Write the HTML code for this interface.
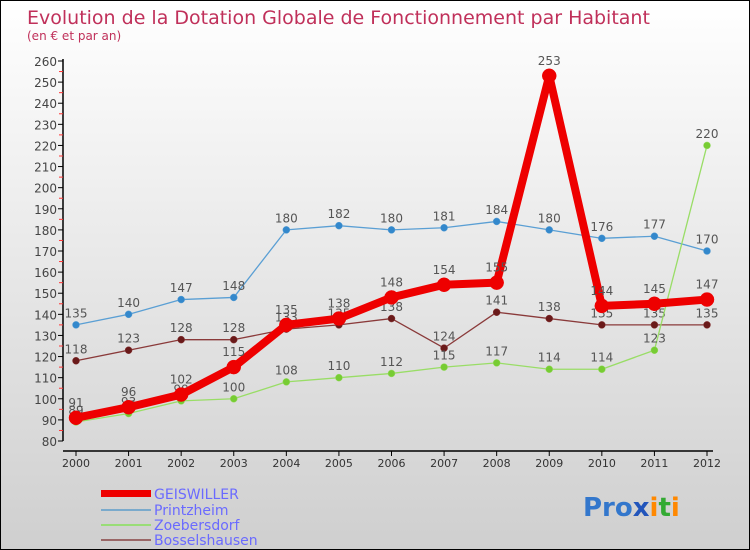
<!DOCTYPE html>
<html><head><meta charset="utf-8"><style>
body{margin:0}
#c{width:748px;height:548px;border:1px solid #000;background:linear-gradient(#ffffff,#cfcfcf);position:relative;overflow:hidden;font-family:"DejaVu Sans","Liberation Sans",sans-serif}
</style></head><body>
<div id="c">
<svg id="s" width="748" height="548">
<text x="26" y="23" font-size="19" fill="#c0305a">Evolution de la Dotation Globale de Fonctionnement par Habitant</text>
<text x="26" y="39" font-size="12" fill="#c0305a">(en € et par an)</text>
<g id="axes"></g><g id="series"></g>
<g>
<rect x="100" y="489" width="50" height="7" fill="#ee0000"/>
<text x="153" y="498" font-size="14" fill="#6a6aff">GEISWILLER</text>
<line x1="100" x2="150" y1="509" y2="509" stroke="#7aaacc" stroke-width="2"/>
<text x="153" y="514" font-size="14" fill="#6a6aff">Printzheim</text>
<line x1="100" x2="150" y1="524" y2="524" stroke="#99dd77" stroke-width="2"/>
<text x="153" y="529" font-size="14" fill="#6a6aff">Zoebersdorf</text>
<line x1="100" x2="150" y1="539" y2="539" stroke="#996666" stroke-width="2"/>
<text x="153" y="544" font-size="14" fill="#6a6aff">Bosselshausen</text>
</g>
<g font-size="26" font-weight="bold" font-family="'DejaVu Sans',sans-serif">
<text x="582" y="515"><tspan fill="#3377cc">Pro</tspan><tspan fill="#2255bb">x</tspan><tspan fill="#ff8800">i</tspan><tspan fill="#33aa33">t</tspan><tspan fill="#ff8800">i</tspan></text>
</g>
</svg>
</div>
<script>
const years=[2000,2001,2002,2003,2004,2005,2006,2007,2008,2009,2010,2011,2012];
const yTicks=[80,90,100,110,120,130,140,150,160,170,180,190,200,210,220,230,240,250,260];
const geiswiller=[91,96,102,115,135,138,148,154,155,253,144,145,147];
const printzheim=[135,140,147,148,180,182,180,181,184,180,176,177,170];
const zoebersdorf=[89,93,99,100,108,110,112,115,117,114,114,123,220];
const bosselshausen=[118,123,128,128,133,135,138,124,141,138,135,135,135];
const NS="http://www.w3.org/2000/svg";
const X=i=>75+i*(631/12);
const Y=v=>440-(v-80)*(380/180);
function mk(t,a,p){const e=document.createElementNS(NS,t);for(const k in a)e.setAttribute(k,a[k]);p.appendChild(e);return e;}
const ax=document.getElementById('axes');
let l=mk('line',{x1:62,x2:62,y1:58,y2:440,stroke:'#000','stroke-width':1.5},ax);


yTicks.forEach((v,i)=>{
 mk('line',{x1:57,x2:62,y1:Y(v),y2:Y(v),stroke:'#000'},ax);
 if(i<yTicks.length-1)mk('line',{x1:58,x2:62,y1:Y(v+5),y2:Y(v+5),stroke:'#ff3333'},ax);
 const t=mk('text',{x:56,y:Y(v)+5,'text-anchor':'end','font-size':12,fill:'#444'},ax);
 t.textContent=v;
 
 
});
l=mk('line',{x1:62,x2:712,y1:450,y2:450,stroke:'#000','stroke-width':1.5},ax);


years.forEach((y,i)=>{
 mk('line',{x1:X(i),x2:X(i),y1:450,y2:455,stroke:'#000'},ax);
 const t=mk('text',{x:X(i),y:466,'text-anchor':'middle','font-size':11,fill:'#333'},ax);
 t.textContent=y;
 
 
});
const sg=document.getElementById('series');
function draw(data,name,color,dot,w,r){
 const g=mk('g',{},sg);
 
 
 mk('polyline',{points:data.map((v,i)=>X(i)+','+Y(v)).join(' '),fill:'none',stroke:color,'stroke-width':w,'stroke-linejoin':'round'},g);
 data.forEach((v,i)=>{
  const c=mk('circle',{cx:X(i),cy:Y(v),r:r,fill:dot,stroke:color,'stroke-width':0.5},g);
  
  
  const t=mk('text',{x:X(i),y:Y(v)-(r+4),'text-anchor':'middle','font-size':12,fill:'#555'},g);
  t.textContent=v;
  
  
 });
}
draw(printzheim,'printzheim','#5a9fd4','#3388cc',1.3,3.5);
draw(bosselshausen,'bosselshausen','#8a3a3a','#6a1a1a',1.3,3.5);
draw(zoebersdorf,'zoebersdorf','#99dd66','#77cc33',1.3,3.5);
draw(geiswiller,'geiswiller','#ee0000','#ee0000',8,7);
</script>
</body></html>
